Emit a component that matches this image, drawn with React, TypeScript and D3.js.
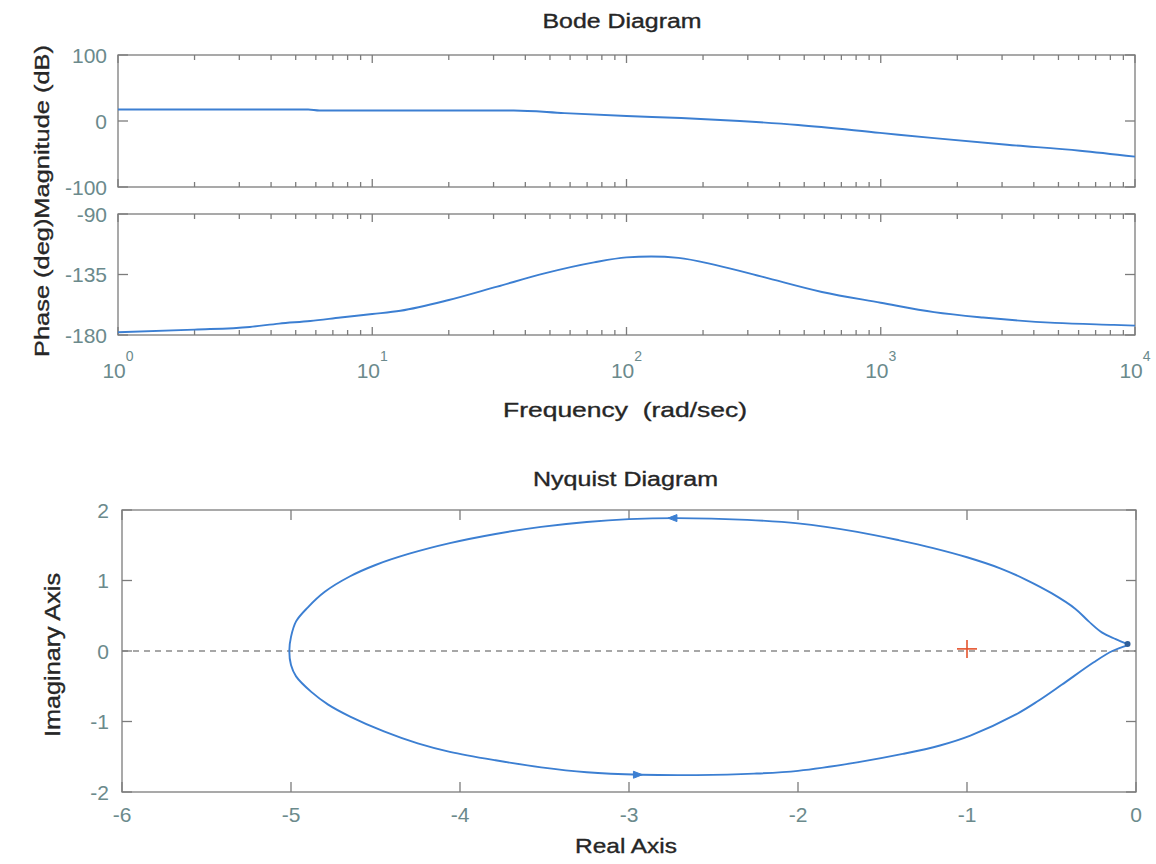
import React from 'react';
import * as d3 from 'd3';

// ---------- data ----------
const magFreq = [1, 5.6, 6.2, 20, 36, 57, 100, 164, 279, 473, 994, 1622, 3140, 6080, 10000];
const magDb = [17.5, 17.5, 16, 16, 16, 12, 7.6, 4.5, 0, -6, -18, -26, -36, -45, -54];

const phaseFreq = [1, 2, 3.3, 4.3, 5.7, 7.5, 10, 12.9, 20, 31, 48, 74.5, 100, 125, 160, 225, 347, 587, 1000, 1620, 2525, 4840, 8260, 10000];
const phaseDeg = [-178, -176, -174, -171.5, -169.6, -167, -164.4, -162, -154, -144, -134, -126, -122.3, -121.6, -122.6, -128, -137, -148, -156, -163, -167, -171, -172.5, -173];

const nyqRe = [-0.05, -0.12, -0.2, -0.28, -0.36, -0.5, -0.65, -0.8, -1.0, -1.2, -1.4, -1.65, -2.0, -2.3, -2.72, -3.0, -3.25, -3.52, -3.79, -4.06, -4.3, -4.5, -4.65, -4.8, -4.9, -4.97, -5.0, -5.01, -5.0, -4.97, -4.88, -4.78, -4.65, -4.45, -4.25, -4.06, -3.79, -3.52, -3.25, -2.93, -2.6, -2.26, -2.0, -1.65, -1.38, -1.16, -0.98, -0.71, -0.58, -0.44, -0.25, -0.14, -0.05];
const nyqIm = [0.1, 0.17, 0.26, 0.42, 0.6, 0.82, 1.01, 1.17, 1.33, 1.46, 1.57, 1.69, 1.81, 1.86, 1.885, 1.87, 1.83, 1.76, 1.66, 1.53, 1.38, 1.22, 1.06, 0.84, 0.62, 0.42, 0.2, 0.0, -0.2, -0.36, -0.58, -0.76, -0.93, -1.14, -1.31, -1.43, -1.55, -1.65, -1.72, -1.755, -1.76, -1.74, -1.7, -1.58, -1.46, -1.34, -1.2, -0.9, -0.71, -0.48, -0.16, 0.0, 0.08];

const magTicks = [-100, 0, 100];
const phaseTicks = [-180, -135, -90];
const freqDecades = [1, 10, 100, 1000, 10000];
const freqExponents = ['0', '1', '2', '3', '4'];
const nyqXTicks = [-6, -5, -4, -3, -2, -1, 0];
const nyqYTicks = [-2, -1, 0, 1, 2];
const criticalPoint = { re: -1, im: 0.03 };
const arrowPoints = [
  { re: -2.74, im: 1.885, dir: -1 },
  { re: -2.95, im: -1.755, dir: 1 },
];

// ---------- styling ----------
const FONT = '"Liberation Sans", Arial, sans-serif';
const TICK_COLOR = '#6b8a8c';
const TEXT_COLOR = '#262626';
const AXIS_COLOR = '#7c7c7c';
const LINE_COLOR = '#3c7fd2';

const xB = d3.scaleLog().domain([1, 10000]).range([118, 1135]);
const yMag = d3.scaleLinear().domain([-100, 100]).range([187, 55]);
const yPh = d3.scaleLinear().domain([-180, -90]).range([335, 214]);
const xN = d3.scaleLinear().domain([-6, 0]).range([122, 1136]);
const yN = d3.scaleLinear().domain([-2, 2]).range([792, 510]);

const minorFreqs: number[] = [];
for (let d = 0; d < 4; d++) for (let k = 2; k <= 9; k++) minorFreqs.push(k * Math.pow(10, d));

function BodeFrame({ y }: { y: d3.ScaleLinear<number, number> }) {
  const [y0, y1] = y.range() as [number, number];
  const x0 = 118, x1 = 1135;
  const ticks: React.ReactNode[] = [];
  minorFreqs.forEach((f, i) => {
    const x = xB(f);
    ticks.push(<line key={'mt' + i} x1={x} x2={x} y1={y1} y2={y1 + 5} />);
    ticks.push(<line key={'mb' + i} x1={x} x2={x} y1={y0} y2={y0 - 5} />);
  });
  freqDecades.forEach((f, i) => {
    const x = xB(f);
    ticks.push(<line key={'Mt' + i} x1={x} x2={x} y1={y1} y2={y1 + 8} />);
    ticks.push(<line key={'Mb' + i} x1={x} x2={x} y1={y0} y2={y0 - 8} />);
  });
  return (
    <g stroke={AXIS_COLOR} strokeWidth={1.3} fill="none">
      <rect x={x0} y={y1} width={x1 - x0} height={y0 - y1} />
      {ticks}
    </g>
  );
}

const heavy = { stroke: TEXT_COLOR, strokeWidth: 0.35 };

export default function App() {
  const magLine = d3
    .line<number>()
    .x((_, i) => xB(magFreq[i]))
    .y((d) => yMag(d))
    .curve(d3.curveMonotoneX);
  const phLine = d3
    .line<number>()
    .x((_, i) => xB(phaseFreq[i]))
    .y((d) => yPh(d))
    .curve(d3.curveMonotoneX);
  const nyqLine = d3
    .line<number>()
    .x((d) => xN(d))
    .y((_, i) => yN(nyqIm[i]))
    .curve(d3.curveCatmullRom.alpha(0.5));

  return (
    <svg
      width={1156}
      height={864}
      style={{ position: 'absolute', left: 0, top: 0, background: '#fff' }}
      fontFamily={FONT}
    >
      <rect x={0} y={0} width={1156} height={864} fill="#fff" />

      {/* ---------- Bode ---------- */}
      <text x={622} y={28} textAnchor="middle" fontSize={20} fill={TEXT_COLOR} {...heavy} textLength={159} lengthAdjust="spacingAndGlyphs">
        Bode Diagram
      </text>

      <BodeFrame y={yMag} />
      <BodeFrame y={yPh} />

      <g stroke={AXIS_COLOR} strokeWidth={1.3}>
        {magTicks.map((t) => (
          <g key={'mg' + t}>
            <line x1={118} x2={128} y1={yMag(t)} y2={yMag(t)} />
            <line x1={1135} x2={1125} y1={yMag(t)} y2={yMag(t)} />
          </g>
        ))}
        {phaseTicks.map((t) => (
          <g key={'pg' + t}>
            <line x1={118} x2={128} y1={yPh(t)} y2={yPh(t)} />
            <line x1={1135} x2={1125} y1={yPh(t)} y2={yPh(t)} />
          </g>
        ))}
      </g>
      <g fontSize={21} fill={TICK_COLOR} textAnchor="end">
        {magTicks.map((t) => (
          <text key={'ml' + t} x={107} y={yMag(t) + 7.5}>
            {t}
          </text>
        ))}
        {phaseTicks.map((t) => (
          <text key={'pl' + t} x={107} y={yPh(t) + 7.5}>
            {t}
          </text>
        ))}
      </g>
      <g fill={TICK_COLOR} textAnchor="middle">
        {freqDecades.map((f, i) => (
          <text key={'fl' + f} x={xB(f)} y={378} fontSize={21}>
            10
            <tspan dy={-17} fontSize={14}>
              {freqExponents[i]}
            </tspan>
          </text>
        ))}
      </g>

      <path d={magLine(magDb) || ''} fill="none" stroke={LINE_COLOR} strokeWidth={1.9} />
      <path d={phLine(phaseDeg) || ''} fill="none" stroke={LINE_COLOR} strokeWidth={1.9} />

      <text
        transform="translate(49,201) rotate(-90)"
        textAnchor="middle"
        fontSize={21}
        fill={TEXT_COLOR}
        {...heavy}
        textLength={312}
        lengthAdjust="spacingAndGlyphs"
      >
        Phase (deg)Magnitude (dB)
      </text>
      <text
        x={625}
        y={417}
        textAnchor="middle"
        fontSize={21}
        fill={TEXT_COLOR}
        {...heavy}
        textLength={244}
        lengthAdjust="spacingAndGlyphs"
        style={{ whiteSpace: 'pre' }}
      >
        {'Frequency  (rad/sec)'}
      </text>

      {/* ---------- Nyquist ---------- */}
      <text x={625.5} y={486} textAnchor="middle" fontSize={20} fill={TEXT_COLOR} {...heavy} textLength={185} lengthAdjust="spacingAndGlyphs">
        Nyquist Diagram
      </text>

      <line
        x1={xN(-6)}
        x2={xN(0)}
        y1={yN(0)}
        y2={yN(0)}
        stroke="#8a8a8a"
        strokeWidth={1.3}
        strokeDasharray="6 5"
      />

      <g stroke={AXIS_COLOR} strokeWidth={1.3} fill="none">
        <rect x={xN(-6)} y={yN(2)} width={xN(0) - xN(-6)} height={yN(-2) - yN(2)} />
        {nyqXTicks.map((t) => (
          <g key={'nx' + t}>
            <line x1={xN(t)} x2={xN(t)} y1={yN(-2)} y2={yN(-2) - 10} />
            <line x1={xN(t)} x2={xN(t)} y1={yN(2)} y2={yN(2) + 10} />
          </g>
        ))}
        {nyqYTicks.map((t) => (
          <g key={'ny' + t}>
            <line x1={xN(-6)} x2={xN(-6) + 10} y1={yN(t)} y2={yN(t)} />
            <line x1={xN(0)} x2={xN(0) - 10} y1={yN(t)} y2={yN(t)} />
          </g>
        ))}
      </g>
      <g fontSize={21} fill={TICK_COLOR}>
        {nyqXTicks.map((t) => (
          <text key={'nxl' + t} x={xN(t)} y={822} textAnchor="middle">
            {t}
          </text>
        ))}
        {nyqYTicks.map((t) => (
          <text key={'nyl' + t} x={109} y={yN(t) + 7.5} textAnchor="end">
            {t}
          </text>
        ))}
      </g>

      <path d={nyqLine(nyqRe) || ''} fill="none" stroke={LINE_COLOR} strokeWidth={1.9} />
      {arrowPoints.map((a, i) => {
        const cx = xN(a.re);
        const cy = yN(a.im);
        const p = `M${cx + a.dir * 5},${cy} L${cx - a.dir * 4},${cy - 3.5} L${cx - a.dir * 4},${cy + 3.5} Z`;
        return <path key={'ar' + i} d={p} fill={LINE_COLOR} stroke={LINE_COLOR} strokeWidth={1} />;
      })}
      <circle cx={xN(nyqRe[0])} cy={yN(nyqIm[0])} r={3} fill="#2f5f9a" />

      <g stroke="#e4532d" strokeWidth={1.6}>
        <line x1={xN(criticalPoint.re) - 10} x2={xN(criticalPoint.re) + 10} y1={yN(criticalPoint.im)} y2={yN(criticalPoint.im)} />
        <line x1={xN(criticalPoint.re)} x2={xN(criticalPoint.re)} y1={yN(criticalPoint.im) - 9} y2={yN(criticalPoint.im) + 9} />
      </g>

      <text
        transform="translate(60,655) rotate(-90)"
        textAnchor="middle"
        fontSize={22}
        fill={TEXT_COLOR}
        {...heavy}
        textLength={164}
        lengthAdjust="spacingAndGlyphs"
      >
        Imaginary Axis
      </text>
      <text x={626} y={853} textAnchor="middle" fontSize={21} fill={TEXT_COLOR} {...heavy} textLength={102} lengthAdjust="spacingAndGlyphs">
        Real Axis
      </text>
    </svg>
  );
}
